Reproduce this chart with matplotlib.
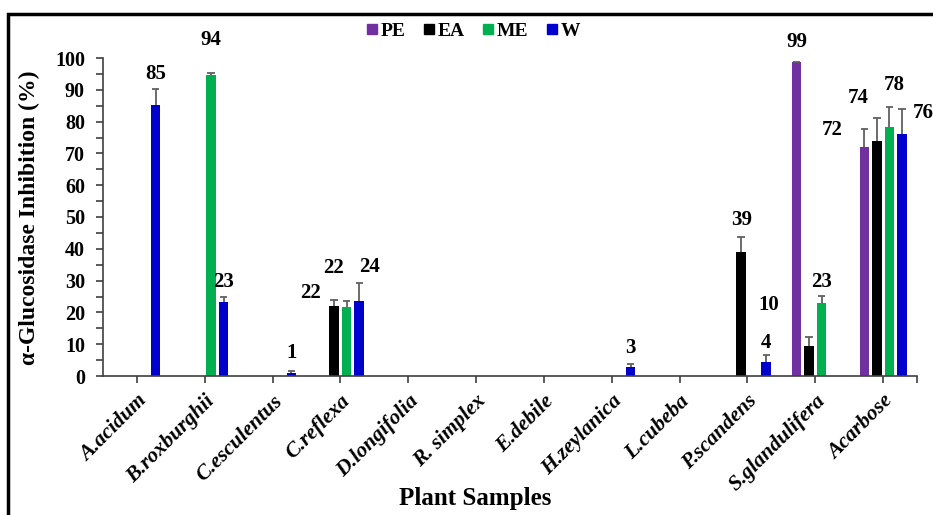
import matplotlib
matplotlib.use("Agg")
import matplotlib.pyplot as plt
import numpy as np
from matplotlib.patches import Rectangle
from matplotlib.lines import Line2D

# ---------------- data ---------------- #
categories = ["A.acidum", "B.roxburghii", "C.esculentus", "C.reflexa", "D.longifolia",
              "R. simplex", "E.debile", "H.zeylanica", "L.cubeba", "P.scandens",
              "S.glandulifera", "Acarbose"]
series = ["PE", "EA", "ME", "W"]
colors = ["#7030A0", "#000000", "#00B050", "#0000CC"]

pe = [0, 0, 0, 0, 0, 0, 0, 0, 0, 0, 98.6, 72.1]
ea = [0, 0, 0, 22.0, 0, 0, 0, 0, 0, 39.1, 9.5, 74.0]
me = [0, 94.6, 0, 21.7, 0, 0, 0, 0, 0, 0, 23.1, 78.4]
w = [85.2, 23.2, 1.0, 23.6, 0, 0, 0, 2.7, 0, 4.5, 0, 76.0]

pe_err = [0, 0, 0, 0, 0, 0, 0, 0, 0, 0, 0.2, 5.6]
ea_err = [0, 0, 0, 1.9, 0, 0, 0, 0, 0, 4.7, 2.9, 7.2]
me_err = [0, 0.8, 0, 1.8, 0, 0, 0, 0, 0, 0, 2.2, 6.1]
w_err = [5.1, 1.7, 0.7, 5.7, 0, 0, 0, 1.0, 0, 2.1, 0, 8.0]

# value labels: (category, series, text, x shift, y)
labels = [
    (0, 3, "85", 0.0, 95.0),
    (1, 2, "94", 0.0, 105.7),
    (1, 3, "23", 0.0, 29.6),
    (2, 3, "1", 0.0, 7.2),
    (3, 1, "22", -0.35, 26.1),
    (3, 2, "22", -0.2, 34.0),
    (3, 3, "24", 0.15, 34.3),
    (7, 3, "3", 0.0, 8.8),
    (9, 1, "39", 0.0, 49.0),
    (10, 1, "10", -0.6, 22.3),
    (9, 3, "4", 0.0, 10.4),
    (10, 0, "99", 0.0, 105.0),
    (10, 2, "23", 0.0, 29.6),
    (11, 0, "72", -0.47, 77.4),
    (11, 1, "74", -0.27, 87.4),
    (11, 2, "78", 0.07, 91.5),
    (11, 3, "76", 0.31, 82.7),
]

values = [pe, ea, me, w]
errors = [pe_err, ea_err, me_err, w_err]

# ---------------- figure ---------------- #
plt.rcParams["font.family"] = ["Liberation Serif", "DejaVu Serif"]
plt.rcParams["font.weight"] = "bold"

W_PX, H_PX = 933, 515
fig = plt.figure(figsize=(W_PX / 100, H_PX / 100), dpi=100)
ax = fig.add_axes([103 / W_PX, 1 - 376 / H_PX, (917 - 103) / W_PX, (376 - 58) / H_PX])

x = np.arange(len(categories))
step, width, cap = 0.185, 0.14, 0.055

for s, (vals, errs, col) in enumerate(zip(values, errors, colors)):
    pos = x + (s - 1.5) * step
    vals = np.array(vals, float)
    errs = np.array(errs, float)
    show = vals > 0
    ax.bar(pos[show], vals[show], width, color=col, zorder=2)
    # upper error bars only, cap on top
    top = vals[show] + errs[show]
    ax.vlines(pos[show], vals[show], top, color="#606060", lw=1.3, zorder=3)
    ax.hlines(top, pos[show] - cap, pos[show] + cap, color="#606060", lw=1.3, zorder=3)

for g, s, txt, dx, y in labels:
    ax.text(g + (s - 1.5) * step + dx, y, txt, ha="center", va="center",
            fontsize=15, fontweight="bold", clip_on=False)

ax.set_xlim(-0.5, 11.5)
ax.set_ylim(0, 100)
ax.set_yticks(np.arange(0, 101, 10))
ax.set_yticks(np.arange(5, 100, 10), minor=True)
ax.set_xticks(x)
ax.set_xticks([11.5], minor=True)
ax.set_xticklabels(categories, rotation=45, ha="right", va="top",
                   rotation_mode="anchor", fontsize=15.5, fontstyle="italic",
                   fontweight="bold")
for lab in ax.get_yticklabels():
    lab.set_fontsize(14.5)
    lab.set_fontweight("bold")

for side in ("top", "right"):
    ax.spines[side].set_visible(False)
for side in ("left", "bottom"):
    ax.spines[side].set_color("#404040")
    ax.spines[side].set_linewidth(1.2)
ax.tick_params(axis="both", which="both", direction="out", length=5,
               width=1.2, color="#404040")
ax.tick_params(axis="x", pad=6)
ax.tick_params(axis="y", pad=8)

fig.text(29 / W_PX, 1 - 218 / H_PX, "α-Glucosidase Inhibition (%)",
         rotation=90, ha="center", va="center", fontsize=17, fontweight="bold")
fig.text(475 / W_PX, 1 - 499 / H_PX, "Plant Samples", ha="center",
         va="center", fontsize=18, fontweight="bold")

handles = [Line2D([], [], marker="s", linestyle="none", markersize=7,
                  markerfacecolor=c, markeredgecolor=c) for c in colors]
fig.legend(handles, series, loc="center", bbox_to_anchor=(472 / W_PX, 1 - 31 / H_PX),
           ncol=4, frameon=False, handletextpad=0.05, columnspacing=0.8,
           prop={"weight": "bold", "size": 14}, handlelength=0.8)

# outer frame
fig.patches.append(Rectangle((8 / W_PX, -0.1), 1.2, 1 - 14 / H_PX + 0.1,
                             transform=fig.transFigure, fill=False,
                             edgecolor="black", linewidth=2.5))

fig.savefig("out.png", dpi=100)
